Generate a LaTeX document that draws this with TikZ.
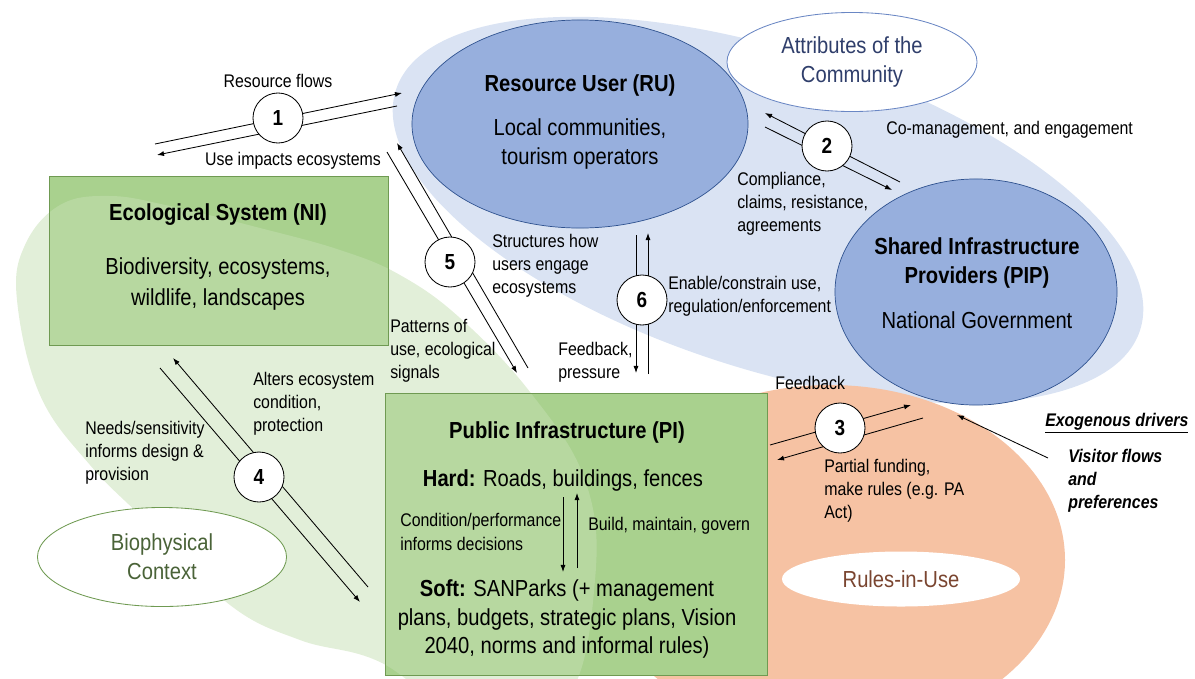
\documentclass[tikz,border=0pt]{standalone}
\usepackage{fontspec}
\setmainfont{Liberation Sans}[FakeStretch=0.87]
\usetikzlibrary{shapes.geometric,fit,arrows.meta}
\pgfdeclarelayer{bg}
\pgfdeclarelayer{veil}
\pgfsetlayers{bg,veil,main}
\definecolor{boxgreen}{HTML}{A9D18E}
\definecolor{boxline}{HTML}{6F9A52}
\definecolor{veilgreen}{HTML}{C5DFB3}
\definecolor{blobblue}{HTML}{DAE3F3}
\definecolor{userblue}{HTML}{97AFDD}
\definecolor{userline}{HTML}{2F528F}
\definecolor{bloborange}{HTML}{F6C2A3}
\definecolor{attrline}{HTML}{6A87C4}
\definecolor{attrtext}{HTML}{2F3E6B}
\definecolor{biotext}{HTML}{4A6338}
\definecolor{ruletext}{HTML}{7A4530}
\tikzset{
  lbl/.style={align=left,inner sep=0pt,font=\fontsize{13}{16.5}\selectfont},
  lblx/.style={lbl,font=\bfseries\itshape\fontsize{13}{16.5}\selectfont},
  big/.style={align=center,inner sep=0pt,font=\fontsize{16.5}{20.5}\selectfont},
  bigb/.style={big,font=\bfseries\fontsize{16.5}{20.5}\selectfont},
  num/.style={circle,draw,fill=white,line width=0.6pt,minimum size=1.25cm,inner sep=0pt,font=\bfseries\fontsize{15.5}{18}\selectfont},
  link/.style={-{Latex[length=5pt,width=3.6pt]},line width=0.6pt},
  actor/.style={ellipse,draw=userline,line width=0.5pt,fill=userblue},
  tag/.style={ellipse,fill=white,line width=0.6pt,font=\fontsize{16.5}{20.5}\selectfont,align=center},
  sysbox/.style={draw=boxline,line width=0.7pt,inner sep=0pt}
}
\begin{document}
\begin{tikzpicture}[x=0.025cm,y=-0.025cm]
\useasboundingbox (0,0) rectangle (1195,678);
% context blobs
\begin{pgfonlayer}{bg}
  \fill[blobblue,rotate around={-17.9:(768,210)}] (768,210) ellipse [x radius=391,y radius=159];
  \fill[bloborange] (830,560) ellipse [x radius=235,y radius=175];
\end{pgfonlayer}
\node[sysbox,fit={(49,176)(388,345)}] (eco) {};
\node[sysbox,fit={(385,393)(767,675)}] (pi) {};
\begin{pgfonlayer}{bg}
  \fill[boxgreen] (eco.north west) rectangle (eco.south east);
  \fill[boxgreen] (pi.north west) rectangle (pi.south east);
\end{pgfonlayer}
\begin{pgfonlayer}{veil}
  \fill[veilgreen,fill opacity=0.5] plot[smooth cycle,tension=0.65] coordinates
    {(25,245) (60,205) (110,196) (170,206) (260,228) (340,250) (400,275) (460,318) (530,392)
     (585,480) (595,580) (565,700) (470,720) (380,662) (300,640) (230,605) (150,525) (90,465) (40,395) (17,300)};
\end{pgfonlayer}
\node[actor,minimum width=8.4cm,minimum height=5.2cm] (ru) at (580,124) {};
\node[actor,minimum width=7.05cm,minimum height=5.65cm] (pip) at (976,292) {};
\node[tag,draw=attrline,text=attrtext,minimum width=6.25cm,minimum height=2.475cm] (attr) at (852,62) {Attributes of the\\Community};
\node[tag,draw=boxline,text=biotext,minimum width=6.225cm,minimum height=2.475cm] (bio) at (162,557) {Biophysical\\Context};
\node[tag,text=ruletext,minimum width=5.95cm,minimum height=1.375cm] (rules) at (901,579) {Rules-in-Use};
% box and ellipse texts
\node[bigb] (ruT) at (580,85) {Resource User (RU)};
\node[big] (ruB) at (580,144) {Local communities,\\tourism operators};
\node[bigb] (pipT) at (977,263) {Shared Infrastructure\\Providers (PIP)};
\node[big] (pipB) at (977,320) {National Government};
\node[bigb] (ecoT) at (218,215) {Ecological System (NI)};
\node[big,font=\fontsize{16.5}{22.5}\selectfont] (ecoB) at (218,284) {Biodiversity, ecosystems,\\wildlife, landscapes};
\node[bigb] (piT) at (567,432) {Public Infrastructure (PI)};
\node[big] (hard) at (563,480) {\textbf{Hard:} Roads, buildings, fences};
\node[big] (soft) at (567,619) {\textbf{Soft:} SANParks (+ management\\plans, budgets, strategic plans, Vision\\2040, norms and informal rules)};
\coordinate (hd1) at (563,497); \coordinate (hd2) at (563,572);
\coordinate (hu1) at (577,568); \coordinate (hu2) at (577,493);
\draw[link] (hd1) -- (hd2);
\draw[link] (hu1) -- (hu2);
\node[lbl,anchor=west] (cond) at (400,532) {Condition/performance\\informs decisions};
\node[lbl,anchor=west] (build) at (588,526) {Build, maintain, govern};
% 1
\coordinate (f1a) at (155,144); \coordinate (f1b) at (402,93);
\coordinate (f1c) at (397,106); \coordinate (f1d) at (157,155);
\draw[link] (f1a) -- (f1b);
\draw[link] (f1c) -- (f1d);
\node[num] (n1) at (278,118) {1};
\node[lbl] (l1a) at (278,81) {Resource flows};
\node[lbl] (l1b) at (293,161) {Use impacts ecosystems};
% 2
\coordinate (f2a) at (900,182); \coordinate (f2b) at (765,113);
\coordinate (f2c) at (765,127); \coordinate (f2d) at (892,190);
\draw[link] (f2a) -- (f2b);
\draw[link] (f2c) -- (f2d);
\node[num] (n2) at (827,146) {2};
\node[lbl,anchor=west] (l2a) at (886,130) {Co-management, and engagement};
\node[lbl,anchor=west] (l2b) at (737,204) {Compliance,\\claims, resistance,\\agreements};
% 3
\coordinate (f3a) at (770,445); \coordinate (f3b) at (911,405);
\coordinate (f3c) at (923,418); \coordinate (f3d) at (777,460);
\draw[link] (f3a) -- (f3b);
\draw[link] (f3c) -- (f3d);
\node[num] (n3) at (840,428) {3};
\node[lbl,anchor=west] (l3a) at (775,383) {Feedback};
\node[lbl,anchor=west] (l3b) at (824,491) {Partial funding,\\make rules (e.g. PA\\Act)};
% 4
\coordinate (f4a) at (368,587); \coordinate (f4b) at (173,358);
\coordinate (f4c) at (160,368); \coordinate (f4d) at (360,602);
\draw[link] (f4a) -- (f4b);
\draw[link] (f4c) -- (f4d);
\node[num] (n4) at (259,477) {4};
\node[lbl,anchor=west] (l4a) at (253,404) {Alters ecosystem\\condition,\\protection};
\node[lbl,anchor=west] (l4b) at (85,453) {Needs/sensitivity\\informs design \&\\provision};
% 5
\coordinate (f5a) at (528,368); \coordinate (f5b) at (397,143);
\coordinate (f5c) at (387,152); \coordinate (f5d) at (517,373);
\draw[link] (f5a) -- (f5b);
\draw[link] (f5c) -- (f5d);
\node[num] (n5) at (450,262) {5};
\node[lbl,anchor=west] (l5a) at (492,266) {Structures how\\users engage\\ecosystems};
\node[lbl,anchor=west] (l5b) at (390,351) {Patterns of\\use, ecological\\signals};
% 6
\coordinate (f6a) at (636,235); \coordinate (f6b) at (636,373);
\coordinate (f6c) at (648,374); \coordinate (f6d) at (648,233);
\draw[link] (f6a) -- (f6b);
\draw[link] (f6c) -- (f6d);
\node[num] (n6) at (642,300) {6};
\node[lbl,anchor=west] (l6a) at (668,296) {Enable/constrain use,\\regulation/enforcement};
\node[lbl,anchor=west] (l6b) at (558,362) {Feedback,\\pressure};
% drivers
\node[lblx,anchor=west] (exo) at (1045,423) {\underline{Exogenous drivers}};
\node[lblx,anchor=west] (visit) at (1068,481) {Visitor flows\\and\\preferences};
\coordinate (ex1) at (1048,458); \coordinate (ex2) at (957,415);
\draw[link] (ex1) -- (ex2);
\end{tikzpicture}
\end{document}
